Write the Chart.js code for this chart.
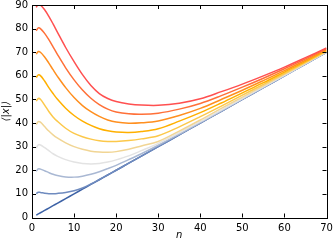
<!DOCTYPE html>
<html>
<head>
<meta charset="utf-8">
<script src="https://cdn.jsdelivr.net/npm/chart.js@4/dist/chart.umd.min.js"></script>
<style>
  html, body { margin: 0; padding: 0; background: #fff; }
  #wrap { width: 334px; height: 241px; }
</style>
</head>
<body>
<div id="wrap"><canvas id="chart"></canvas></div>
<script>
// sample positions along n
const nGrid = [1, 1.5, 2, 3, 4, 5, 6, 8, 10, 12, 14, 16, 18, 20, 23, 26, 30, 35, 40, 45, 50, 55, 60, 65, 70];

// <|x|> for each starting value
const start0  = [1, 1.5, 2, 3, 4, 5, 6, 8, 10, 12, 14, 16, 18, 20, 23, 26, 30, 35, 40, 45, 50, 55, 60, 65, 70];
const start10 = [10.1, 10.7, 10.6, 10.3, 10.1, 10.1, 10.2, 10.6, 11.3, 12.5, 14.2, 16.1, 18.05, 20.0, 23.0, 26.0, 30.0, 35.0, 40.0, 45.0, 50.0, 55.0, 60.0, 65.0, 70.0];
const start20 = [19.6, 20.6, 20.5, 19.8, 19.0, 18.3, 17.8, 17.2, 17.1, 17.5, 18.3, 19.4, 20.7, 22.1, 24.5, 27.0, 30.6, 35.3, 40.2, 45.1, 50.1, 55.05, 60.0, 65.0, 70.0];
const start30 = [29.4, 30.8, 30.7, 29.6, 28.3, 27.0, 26.0, 24.5, 23.5, 22.9, 22.7, 22.9, 23.5, 24.4, 26.1, 28.3, 31.4, 35.9, 40.6, 45.5, 50.4, 55.3, 60.2, 65.15, 70.1];
const start40 = [39.4, 40.6, 40.4, 38.5, 36.6, 35.0, 33.7, 31.6, 30.0, 28.9, 28.1, 27.7, 27.6, 27.9, 28.9, 30.3, 32.2, 36.6, 41.3, 46.2, 51.0, 55.8, 60.6, 65.4, 70.3];
const start50 = [49.3, 50.4, 50.1, 47.6, 44.9, 42.6, 40.8, 37.8, 35.6, 34.2, 33.2, 32.5, 32.2, 32.2, 32.6, 33.3, 34.6, 38.4, 42.7, 47.2, 51.8, 56.4, 61.0, 65.7, 70.5];
const start60 = [59.3, 60.4, 60.1, 57.8, 55.0, 52.5, 50.2, 46.3, 43.2, 40.8, 39.0, 37.6, 36.7, 36.2, 36.0, 36.4, 37.6, 40.8, 44.4, 48.5, 52.8, 57.1, 61.6, 66.1, 70.8];
const start70 = [69.2, 70.3, 70.0, 68.0, 65.4, 62.6, 59.9, 55.0, 50.8, 47.4, 44.8, 42.8, 41.3, 40.4, 39.9, 40.1, 40.9, 43.2, 46.2, 50.0, 53.9, 58.0, 62.2, 66.6, 71.1];
const start80 = [79.1, 80.3, 80.0, 78.0, 75.3, 72.3, 69.2, 63.4, 58.3, 54.0, 50.5, 47.8, 45.9, 44.7, 43.9, 43.7, 44.2, 45.9, 48.3, 51.6, 55.2, 59.0, 63.0, 67.2, 71.5];
const start90 = [89.0, 90.3, 90.0, 88.0, 85.2, 82.0, 78.6, 72.0, 66.0, 60.5, 55.9, 52.5, 50.4, 49.1, 48.1, 47.6, 47.5, 48.4, 50.3, 53.3, 56.5, 60.0, 63.7, 67.7, 71.8];

const xTicks = [0, 10, 20, 30, 40, 50, 60, 70];
const yTicks = [0, 10, 20, 30, 40, 50, 60, 70, 80, 90];

const seriesList = [start0, start10, start20, start30, start40, start50, start60, start70, start80, start90];
const colors = ['#3d62a6', '#6f8bbf', '#a9b8d3', '#e3e3e3', '#f1d594', '#fcc84a', '#ffb000', '#ff8f1f', '#ff7038', '#ff5050'];

const datasets = seriesList.map((vals, i) => ({
    data: vals.map((v, j) => ({ x: nGrid[j], y: v })),
    borderColor: colors[i],
    borderWidth: 1.5,
    pointRadius: 0,
    fill: false,
    tension: 0.35
}));

// frame with inward ticks on all four sides
const framePlugin = {
    id: 'frame',
    afterDraw(chart) {
        const { ctx, chartArea: a, scales } = chart;
        ctx.save();
        ctx.strokeStyle = '#000';
        ctx.lineWidth = 1;
        ctx.beginPath();
        xTicks.forEach(t => {
            const px = Math.round(scales.x.getPixelForValue(t)) + 0.5;
            ctx.moveTo(px, a.bottom); ctx.lineTo(px, a.bottom - 4);
            ctx.moveTo(px, a.top); ctx.lineTo(px, a.top + 4);
        });
        yTicks.forEach(t => {
            const py = Math.round(scales.y.getPixelForValue(t)) + 0.5;
            ctx.moveTo(a.left, py); ctx.lineTo(a.left + 4, py);
            ctx.moveTo(a.right, py); ctx.lineTo(a.right - 4, py);
        });
        ctx.stroke();
        ctx.strokeRect(Math.round(a.left) + 0.5, Math.round(a.top) + 0.5,
            Math.round(a.right - a.left), Math.round(a.bottom - a.top));
        ctx.restore();
    }
};

const font = { family: 'DejaVu Sans', size: 10 };

new Chart(document.getElementById('chart'), {
    type: 'line',
    data: { datasets: datasets.slice().reverse() },
    options: {
        responsive: true,
        maintainAspectRatio: false,
        animation: false,
        layout: { padding: { left: 0, right: 7.5, top: 5, bottom: 0 } },
        plugins: { legend: { display: false }, tooltip: { enabled: false } },
        scales: {
            x: {
                type: 'linear',
                min: 0,
                max: 70,
                afterBuildTicks: s => { s.ticks = xTicks.map(v => ({ value: v })); },
                afterFit: s => { s.height = 23.5; s.paddingLeft = 0; s.paddingRight = 0; },
                grid: { display: false, drawTicks: false },
                border: { display: false },
                ticks: { color: '#000', font: font, padding: 5, maxRotation: 0 },
                title: { display: true, text: 'n', color: '#000', font: { family: 'DejaVu Sans', size: 10, style: 'italic' }, padding: { top: 0, bottom: 0 } }
            },
            y: {
                type: 'linear',
                min: 0,
                max: 90,
                afterBuildTicks: s => { s.ticks = yTicks.map(v => ({ value: v })); },
                afterFit: s => { s.width = 32; s.paddingTop = 0; s.paddingBottom = 0; },
                grid: { display: false, drawTicks: false },
                border: { display: false },
                ticks: { color: '#000', font: font, padding: 4 },
                title: { display: true, text: '⟨|x|⟩', color: '#000', font: { family: 'DejaVu Sans', size: 10, style: 'italic' }, padding: { top: 0, bottom: 0 } }
            }
        }
    },
    plugins: [framePlugin]
});
</script>
</body>
</html>
